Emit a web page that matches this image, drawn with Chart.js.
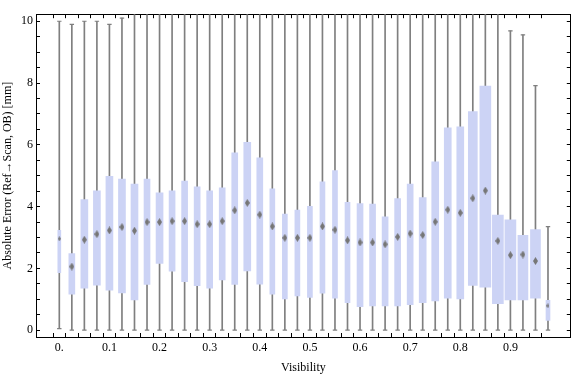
<!DOCTYPE html>
<html>
<head>
<meta charset="utf-8">
<script src="https://cdn.jsdelivr.net/npm/chart.js@4"></script>
<style>
  html, body { margin: 0; padding: 0; background: #fff; }
</style>
</head>
<body>
<canvas id="chart" width="576" height="377"></canvas>
<script>
// ── Data ─────────────────────────────────────────────────────────────────────
const visibility = [0, 0.025, 0.05, 0.075, 0.1, 0.125, 0.15, 0.175, 0.2, 0.225,
                    0.25, 0.275, 0.3, 0.325, 0.35, 0.375, 0.4, 0.425, 0.45, 0.475,
                    0.5, 0.525, 0.55, 0.575, 0.6, 0.625, 0.65, 0.675, 0.7, 0.725,
                    0.75, 0.775, 0.8, 0.825, 0.85, 0.875, 0.9, 0.925, 0.95, 0.975];

const whiskerLow  = [0.05, 0, 0, 0, 0, 0, 0, 0, 0, 0,
                     0, 0, 0, 0, 0, 0, 0, 0, 0, 0,
                     0, 0, 0, 0, 0, 0, 0, 0, 0, 0,
                     0, 0, 0, 0, 0, 0, 0, 0, 0, 0];
const quartile1   = [1.86, 1.17, 1.36, 1.46, 1.30, 1.21, 0.98, 1.48, 2.16, 1.91,
                     1.57, 1.44, 1.36, 1.63, 1.48, 1.92, 1.49, 1.17, 1.01, 1.11,
                     1.06, 1.20, 1.04, 0.89, 0.76, 0.79, 0.79, 0.79, 0.83, 0.89,
                     0.95, 1.04, 1.01, 1.45, 1.39, 0.86, 0.98, 0.98, 1.04, 0.32];
const median      = [2.96, 2.06, 2.93, 3.11, 3.23, 3.34, 3.22, 3.50, 3.50, 3.53,
                     3.53, 3.43, 3.43, 3.53, 3.88, 4.12, 3.74, 3.36, 2.99, 2.99,
                     2.99, 3.36, 3.25, 2.91, 2.84, 2.84, 2.78, 3.02, 3.13, 3.08,
                     3.51, 3.90, 3.80, 4.27, 4.52, 2.89, 2.43, 2.45, 2.24, 0.79];
const quartile3   = [3.23, 2.48, 4.23, 4.51, 4.98, 4.89, 4.73, 4.89, 4.45, 4.51,
                     4.83, 4.64, 4.51, 4.61, 5.74, 6.08, 5.58, 4.58, 3.76, 3.89,
                     4.01, 4.80, 5.17, 4.14, 4.10, 4.08, 3.67, 4.26, 4.73, 4.29,
                     5.45, 6.55, 6.58, 7.08, 7.90, 3.73, 3.57, 3.07, 3.26, 0.97];
// whiskers marked 10.5 run past the top of the frame
const whiskerHigh = [10.0, 9.9, 10.0, 10.0, 9.9, 10.1, 10.5, 10.5, 10.5, 10.5,
                     10.5, 10.5, 10.5, 10.5, 10.5, 10.5, 10.5, 10.5, 10.5, 10.5,
                     10.5, 10.5, 10.5, 10.5, 10.5, 10.5, 10.5, 10.5, 10.5, 10.5,
                     10.5, 10.5, 10.5, 10.5, 10.5, 10.5, 9.69, 9.56, 7.92, 3.35];

const xTickValues = [0, 0.1, 0.2, 0.3, 0.4, 0.5, 0.6, 0.7, 0.8, 0.9];
const xTickLabels = ['0.', '0.1', '0.2', '0.3', '0.4', '0.5', '0.6', '0.7', '0.8', '0.9'];
const yTickLabels = [0, 2, 4, 6, 8, 10];

// ── Style ────────────────────────────────────────────────────────────────────
const boxPx = [3, 6, 7, 7, 7, 7, 7, 6, 7, 6,
               6, 6, 6, 6, 6, 7, 6, 5, 5, 5,
               5, 5, 5, 5, 6, 6, 6, 6, 6, 7,
               7, 7, 7, 9, 11, 11, 11, 10, 10, 4];
const BOX     = '#ccd3f5';
const WHISKER = '#7f7f7f';
const FONT    = { family: 'Liberation Serif', size: 12 };
const Y_MIN = -0.2196, Y_MAX = 10.229;
const X_MIN = -0.0338, X_MAX = 1.0078;

function diamond(w, h, color) {
  const c = document.createElement('canvas');
  c.width = w; c.height = h;
  const g = c.getContext('2d');
  g.fillStyle = color;
  g.beginPath();
  g.moveTo(w / 2, 0); g.lineTo(w, h / 2); g.lineTo(w / 2, h); g.lineTo(0, h / 2);
  g.closePath();
  g.fill();
  return c;
}
const bigDiamond   = diamond(5, 8, '#767676');
const smallDiamond = diamond(3, 5, '#767676');

// ── Datasets ─────────────────────────────────────────────────────────────────
const datasets = [];

datasets.push({
  type: 'bar', order: 3, grouped: false,
  data: visibility.map((x, i) => ({ x, y: [whiskerLow[i], whiskerHigh[i]] })),
  backgroundColor: WHISKER, barThickness: 1,
});

[...new Set(boxPx)].forEach(w => {
  datasets.push({
    type: 'bar', order: 2, grouped: false,
    data: visibility.map((x, i) => boxPx[i] === w ? { x, y: [quartile1[i], quartile3[i]] } : null)
                    .filter(Boolean),
    backgroundColor: BOX, barThickness: w,
  });
});

const capStyle = { type: 'scatter', order: 1, showLine: false, pointStyle: 'line',
                   pointRadius: 2.2, borderColor: WHISKER, borderWidth: 1.2 };
datasets.push({ ...capStyle, data: visibility.map((x, i) => ({ x, y: whiskerLow[i] })) });
datasets.push({ ...capStyle, data: visibility.map((x, i) => ({ x, y: whiskerHigh[i] })) });

datasets.push({
  type: 'scatter', order: 0, showLine: false,
  data: visibility.map((x, i) => ({ x, y: median[i] })),
  pointStyle: ctx => boxPx[ctx.dataIndex] < 5 ? smallDiamond : bigDiamond,
});

// ── Axes ─────────────────────────────────────────────────────────────────────
const tickColor = ctx => (ctx.tick && ctx.tick.value > -0.001 && ctx.tick.value < 0.98) ? '#000' : 'rgba(0,0,0,0)';

function xLabel(v) {
  const i = xTickValues.findIndex(t => Math.abs(t - v) < 1e-6);
  return i >= 0 ? xTickLabels[i] : '';
}
function yLabel(v) {
  return yTickLabels.some(t => Math.abs(t - v) < 1e-6) ? String(v) : '';
}

const frame = { color: '#000', width: 1 };

new Chart(document.getElementById('chart'), {
  type: 'bar',
  data: { datasets },
  options: {
    responsive: false, animation: false, events: [],
    layout: { padding: 0 },
    plugins: { legend: { display: false }, tooltip: { enabled: false } },
    scales: {
      x: {
        type: 'linear', position: 'bottom', min: X_MIN, max: X_MAX,
        afterFit: s => { s.height = 40; },
        border: frame,
        grid: { drawOnChartArea: false, tickLength: -4, color: tickColor },
        ticks: { stepSize: 0.025, includeBounds: false, autoSkip: false, maxRotation: 0,
                 padding: 8, color: '#000', font: FONT, callback: xLabel },
        title: { display: true, text: 'Visibility', color: '#000', font: FONT,
                 padding: { top: 0, bottom: 2 } },
      },
      x2: {
        type: 'linear', position: 'top', min: X_MIN, max: X_MAX,
        afterFit: s => { s.height = 4; },
        border: frame,
        grid: { drawOnChartArea: false, tickLength: -4, color: tickColor },
        ticks: { display: false, stepSize: 0.025, includeBounds: false },
      },
      y: {
        type: 'linear', position: 'left', min: Y_MIN, max: Y_MAX,
        afterFit: s => { s.width = 36; },
        border: frame,
        grid: { drawOnChartArea: false, tickLength: -4, color: '#000' },
        ticks: { stepSize: 0.5, includeBounds: false, autoSkip: false,
                 padding: 7, color: '#000', font: FONT, callback: yLabel },
        title: { display: true, text: 'Absolute Error (Ref\u2192Scan, OB) [mm]', color: '#000',
                 font: FONT, padding: { top: 1, bottom: 0 } },
      },
      y2: {
        type: 'linear', position: 'right', min: Y_MIN, max: Y_MAX,
        afterFit: s => { s.width = 1; },
        border: frame,
        grid: { drawOnChartArea: false, tickLength: -4, color: '#000' },
        ticks: { display: false, stepSize: 0.5, includeBounds: false },
      },
    },
  },
});
</script>
</body>
</html>
